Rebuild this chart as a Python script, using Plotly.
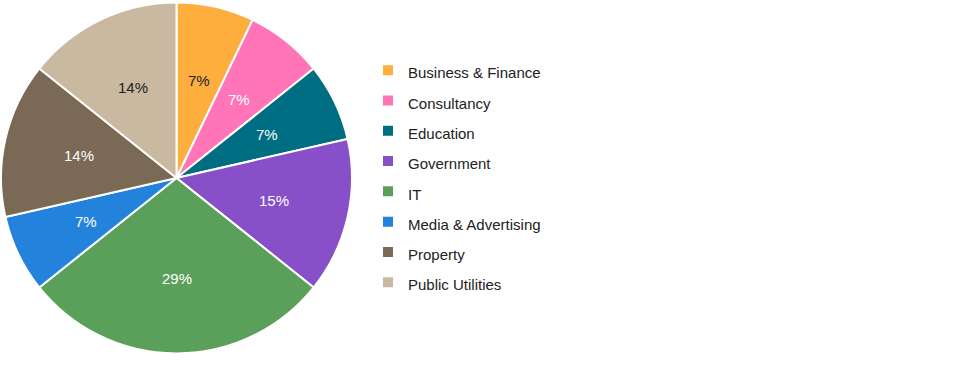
import math
import plotly.graph_objects as go

categories = ["Business & Finance", "Consultancy", "Education", "Government",
              "IT", "Media & Advertising", "Property", "Public Utilities"]
counts = [1, 1, 1, 2, 4, 1, 2, 2]
pct_labels = ["7%", "7%", "7%", "15%", "29%", "7%", "14%", "14%"]
colors = ["#FDAE3D", "#FF75B7", "#006E82", "#8750C8",
          "#5AA05A", "#2383DC", "#7A6A55", "#C8B9A0"]
text_colors = ["#222222", "#FFFFFF", "#FFFFFF", "#FFFFFF",
               "#FFFFFF", "#FFFFFF", "#FFFFFF", "#222222"]

W, H = 960, 365
FONT = "Liberation Sans, Arial, sans-serif"
dom_x = [1 / W, 352 / W]
dom_y = [1 - 354 / H, 1 - 2 / H]

legend_labels = ['<span style="font-size:15px">%s</span>' % c.replace("&", "&amp;") for c in categories]

fig = go.Figure(go.Pie(
    labels=legend_labels,
    values=counts,
    textinfo="none",
    marker=dict(colors=colors, line=dict(color="#FFFFFF", width=2)),
    sort=False,
    direction="clockwise",
    rotation=0,
    hoverinfo="skip",
    domain=dict(x=dom_x, y=dom_y),
))

# data labels placed at ~57% of the radius along each slice's mid angle
cx_px = (dom_x[0] + dom_x[1]) / 2 * W
cy_px = (1 - (dom_y[0] + dom_y[1]) / 2) * H
R_px = min((dom_x[1] - dom_x[0]) * W, (dom_y[1] - dom_y[0]) * H) / 2
total = sum(counts)
cum = 0
annotations = []
for v, t, tc in zip(counts, pct_labels, text_colors):
    mid = (cum + v / 2) / total * 2 * math.pi
    cum += v
    r = 0.57 * R_px
    x_px = cx_px + r * math.sin(mid)
    y_px = cy_px - r * math.cos(mid)
    annotations.append(dict(
        x=x_px / W, y=1 - y_px / H, xref="paper", yref="paper",
        text=t, showarrow=False, xanchor="center", yanchor="middle",
        font=dict(family=FONT, size=15, color=tc),
    ))

fig.update_layout(
    width=W, height=H,
    margin=dict(l=0, r=0, t=0, b=0),
    paper_bgcolor="#FFFFFF",
    plot_bgcolor="#FFFFFF",
    showlegend=True,
    annotations=annotations,
    legend=dict(
        x=368 / W, xanchor="left",
        y=1 - 50 / H, yanchor="top",
        font=dict(family=FONT, size=21, color="#222222"),
        bgcolor="rgba(0,0,0,0)",
        traceorder="normal",
    ),
)

fig.write_html("out.html")
